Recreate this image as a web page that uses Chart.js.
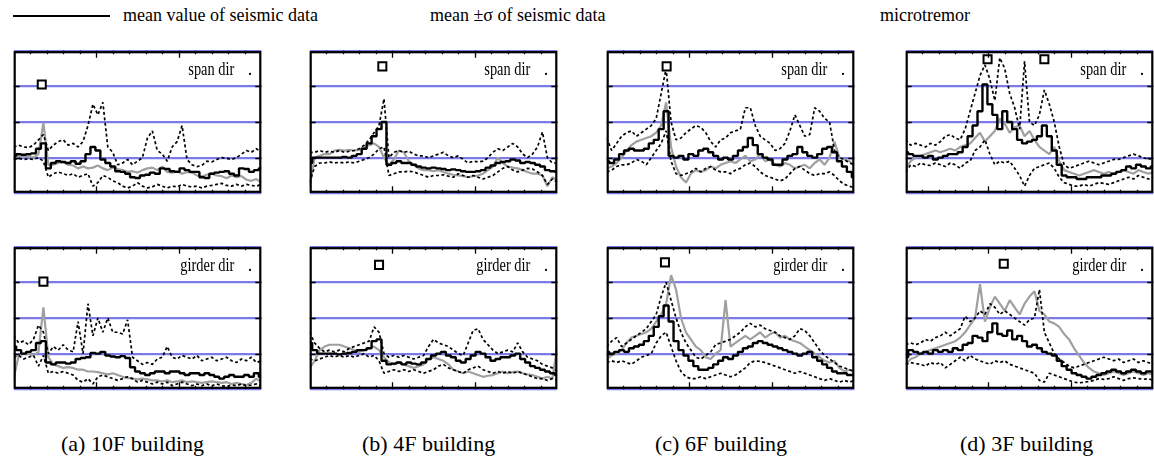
<!DOCTYPE html>
<html>
<head>
<meta charset="utf-8">
<script src="https://cdn.jsdelivr.net/npm/chart.js@4.4.1/dist/chart.umd.min.js"></script>
<style>
  body {
    margin: 0;
    width: 1154px;
    height: 461px;
    overflow: hidden;
    position: relative;
    background: #fff;
    color: #000;
    font-family: "Liberation Serif", "Times New Roman", serif;
  }
  canvas { position: absolute; }
  .legend { position: absolute; top: 6px; font-size: 18px; line-height: 18px; white-space: nowrap; }
  .legend-line { position: absolute; left: 13px; top: 15px; width: 97px; height: 2px; background: #000; }
  .caption { position: absolute; top: 433px; font-size: 22px; line-height: 22px; white-space: nowrap; }
</style>
</head>
<body>
<div class="legend-line"></div>
<div class="legend" style="left:123px">mean value of seismic data</div>
<div class="legend" style="left:430px">mean ±σ of seismic data</div>
<div class="legend" style="left:880px">microtremor</div>

<div class="caption" style="left:61px">(a) 10F building</div>
<div class="caption" style="left:362px">(b) 4F building</div>
<div class="caption" style="left:655px">(c) 6F building</div>
<div class="caption" style="left:960px">(d) 3F building</div>

<script>
// frequency axis (Hz)
const freq = [0, 0.3, 0.6, 0.9, 1.2, 1.5, 1.8, 2.1, 2.4, 2.7, 3, 3.3, 3.6, 3.9, 4.2, 4.5, 4.8, 5.1, 5.4, 5.7,
  6, 6.3, 6.6, 6.9, 7.2, 7.5, 7.8, 8.1, 8.4, 8.7, 9, 9.3, 9.6, 9.9, 10.2, 10.5, 10.8, 11.1, 11.4, 11.7,
  12, 12.3, 12.6, 12.9, 13.2, 13.5, 13.8, 14.1, 14.4, 14.7, 15];
const yTicks = [0, 1, 2, 3, 4];

// (a) 10F building
const mean10FSpan = [1.05,1.1,1.08,1.1,1.12, 1.25,1.4,0.7,0.85,0.9, 0.88,0.85,0.9,0.83,0.9, 1.1,1.3,1.2,0.95,0.85, 0.75,0.62,0.6,0.55,0.45, 0.43,0.5,0.52,0.58,0.55, 0.7,0.68,0.62,0.6,0.7, 0.65,0.6,0.6,0.45,0.43, 0.55,0.58,0.6,0.62,0.55, 0.5,0.7,0.68,0.6,0.65, 0.7];
const upper10FSpan = [1.3,1.35,1.3,1.28,1.35, 1.5,1.65,1.2,1.35,1.45, 1.5,1.35,1.4,1.3,1.45, 1.9,2.5,2.2,2.55,1.3, 1.15,0.8,0.85,0.95,0.8, 0.9,1.0,1.55,1.75,1.2, 1.1,0.9,1.3,1.45,1.9, 0.95,0.8,0.75,0.78,0.9, 0.88,0.95,1.0,0.98,0.95, 1.0,1.1,1.2,1.15,1.25, 1.15];
const lower10FSpan = [0.95,0.98,0.95,0.97,0.95, 1.0,0.9,0.45,0.55,0.6, 0.55,0.5,0.55,0.45,0.5, 0.55,0.2,0.3,0.5,0.45, 0.35,0.3,0.2,0.15,0.2, 0.3,0.2,0.15,0.18,0.25, 0.2,0.15,0.2,0.18,0.25, 0.2,0.18,0.2,0.15,0.2, 0.22,0.25,0.28,0.22,0.2, 0.25,0.2,0.25,0.22,0.2, 0.25];
const micro10FSpan = [1.0,1.05,1.02,1.05,1.0, 1.1,1.98,0.8,0.8,0.85, 0.88,0.8,0.78,0.7,0.75, 0.7,0.72,0.78,0.7,0.65, 0.72,0.68,0.65,0.6,0.62, 0.58,0.65,0.7,0.72,0.65, 0.75,0.6,0.58,0.62,0.55, 0.6,0.58,0.5,0.48,0.52, 0.55,0.5,0.48,0.42,0.5, 0.45,0.48,0.38,0.35,0.4, 0.3];
const peaks10FSpan = [[1.7, 3.05]];

const mean10FGirder = [1.2,1.1,1.0,1.05,1.1, 1.3,1.35,0.75,0.7,0.75, 0.75,0.72,0.75,0.85,0.88, 0.9,1.02,1.0,1.05,0.95, 0.92,0.9,0.93,0.88,0.62, 0.5,0.45,0.4,0.45,0.5, 0.5,0.45,0.5,0.5,0.45, 0.4,0.45,0.45,0.4,0.45, 0.4,0.35,0.3,0.35,0.4, 0.35,0.35,0.4,0.35,0.45, 0.35];
const upper10FGirder = [1.5,1.3,1.35,1.25,1.4, 1.8,1.6,1.0,1.2,1.1, 1.25,1.1,1.05,1.9,1.0, 2.4,1.5,2.0,1.6,2.0, 1.6,1.6,1.55,1.95,0.9, 0.8,0.7,0.75,0.7,0.85, 0.9,1.2,0.9,0.85,0.95, 0.9,0.85,0.95,0.8,0.85, 0.9,0.8,0.85,0.9,0.8, 0.75,0.85,0.8,0.9,0.75, 0.8];
const lower10FGirder = [0.9,0.95,0.85,0.9,0.95, 0.65,0.95,0.45,0.5,0.45, 0.5,0.45,0.4,0.25,0.2, 0.3,0.15,0.35,0.4,0.35, 0.3,0.25,0.3,0.35,0.3, 0.2,0.25,0.2,0.15,0.2, 0.15,0.2,0.1,0.15,0.2, 0.15,0.1,0.15,0.1,0.15, 0.1,0.15,0.1,0.08,0.12, 0.1,0.15,0.1,0.12,0.15, 0.1];
const micro10FGirder = [0.3,0.95,1.0,1.0,0.95, 1.05,2.3,0.9,0.7,0.65, 0.6,0.62,0.6,0.55,0.55, 0.5,0.5,0.48,0.45,0.42, 0.45,0.4,0.35,0.32,0.3, 0.28,0.3,0.28,0.25,0.25, 0.22,0.25,0.2,0.22,0.25, 0.2,0.22,0.2,0.18,0.2, 0.22,0.2,0.18,0.2,0.15, 0.18,0.15,0.12,0.18,0.3, 0.2];
const peaks10FGirder = [[1.8, 3.02]];

// (b) 4F building
const mean4FSpan = [0.85,1.0,1.0,1.0,1.0, 1.0,1.0,1.02,1.0,1.05, 1.1,1.25,1.4,1.6,1.8, 2.0,0.8,0.85,0.9,0.85, 0.85,0.8,0.75,0.72,0.7, 0.72,0.7,0.68,0.65,0.67, 0.65,0.62,0.6,0.6,0.62, 0.65,0.72,0.78,0.85,0.88, 0.9,0.95,0.92,0.85,0.88, 0.85,0.8,0.75,0.65,0.62, 0.6];
const upper4FSpan = [1.15,1.15,1.2,1.15,1.18, 1.15,1.2,1.15,1.18,1.2, 1.25,1.35,1.5,1.7,1.9, 2.65,1.0,1.15,1.2,1.15, 1.18,1.1,1.05,1.05,1.0, 1.05,1.1,1.15,1.05,1.0, 1.05,0.95,0.85,0.9,0.88, 0.9,1.0,1.15,1.25,1.2, 1.3,1.4,1.3,1.1,1.0, 1.1,1.3,1.72,1.0,0.85, 0.85];
const lower4FSpan = [0.3,0.75,0.85,0.85,0.88, 0.85,0.87,0.85,0.88,0.85, 0.9,0.95,1.0,1.1,1.25, 1.3,0.5,0.55,0.6,0.6, 0.62,0.6,0.55,0.5,0.45, 0.5,0.5,0.52,0.48,0.45, 0.55,0.5,0.45,0.5,0.45, 0.4,0.45,0.5,0.6,0.7, 0.75,0.65,0.6,0.65,0.7, 0.68,0.6,0.5,0.25,0.4, 0.3];
const micro4FSpan = [0.2,1.0,1.05,1.1,1.1, 1.2,1.22,1.2,1.22,1.2, 1.22,1.3,1.35,1.4,1.3, 1.0,0.8,0.95,1.2,1.15, 0.9,0.8,0.7,0.65,0.65, 0.62,0.65,0.6,0.55,0.52, 0.5,0.48,0.45,0.48,0.5, 0.55,0.65,0.75,1.0,0.85, 0.75,0.72,0.7,0.65,0.6, 0.55,0.55,0.5,0.2,0.45, 0.35];
const peaks4FSpan = [[4.4, 3.56]];

const mean4FGirder = [1.3,1.1,1.0,1.0,1.0, 1.0,0.98,1.0,1.02,1.05, 1.1,1.1,1.15,1.35,1.4, 0.8,0.7,0.72,0.75,0.7, 0.75,0.72,0.7,0.75,0.85, 0.95,1.0,1.05,0.95,0.9, 0.8,0.75,0.85,0.95,1.05, 1.0,0.9,0.8,0.85,0.9, 0.9,0.95,1.0,0.85,0.75, 0.65,0.6,0.55,0.5,0.45, 0.4];
const upper4FGirder = [1.6,1.3,1.15,1.05,1.1, 1.05,1.1,1.05,1.15,1.2, 1.25,1.3,1.35,1.75,1.6, 1.0,0.9,0.95,0.9,0.95, 0.9,0.85,0.9,0.95,1.2, 1.4,1.3,1.25,1.2,1.1, 1.0,0.95,1.3,1.65,1.7, 1.4,1.25,1.1,1.0,1.05, 1.1,1.05,1.3,1.05,0.9, 0.85,0.8,0.7,0.65,0.6, 0.5];
const lower4FGirder = [0.85,0.8,0.85,0.9,0.95, 0.9,0.95,0.9,0.95,0.9, 0.95,1.0,0.9,0.95,0.8, 0.45,0.5,0.55,0.5,0.55, 0.5,0.55,0.5,0.45,0.5, 0.55,0.65,0.7,0.6,0.55, 0.5,0.45,0.55,0.6,0.65, 0.55,0.5,0.45,0.5,0.45, 0.5,0.45,0.5,0.45,0.4, 0.35,0.3,0.3,0.25,0.3, 0.25];
const micro4FGirder = [0.6,0.8,1.1,1.2,1.25, 1.25,1.25,1.2,1.15,1.1, 1.05,1.1,1.15,1.2,1.1, 0.9,0.75,0.7,0.75,0.7, 0.65,0.6,0.65,0.7,0.85, 0.9,0.85,0.8,0.7,0.55, 0.5,0.45,0.5,0.45,0.4, 0.35,0.38,0.4,0.45,0.5, 0.45,0.48,0.5,0.45,0.42, 0.4,0.35,0.3,0.35,0.3, 1.2];
const peaks4FGirder = [[4.2, 3.49]];

// (c) 6F building
const mean6FSpan = [0.9,0.85,0.95,1.1,1.2, 1.25,1.2,1.2,1.25,1.4, 1.5,1.8,2.3,1.05,1.0, 1.05,0.95,1.1,1.05,1.2, 1.25,1.15,1.05,0.95,1.0, 0.95,1.05,1.2,1.3,1.55, 1.35,1.1,1.0,0.95,0.8, 0.8,0.95,1.05,1.1,1.3, 1.15,1.05,1.0,1.1,1.25, 1.3,1.15,0.9,0.75,0.6, 0.45];
const upper6FSpan = [1.55,1.2,1.4,1.6,1.7, 1.75,1.6,1.7,1.8,1.9, 2.1,2.8,3.5,2.0,1.5, 1.55,1.7,1.8,1.9,1.85, 1.7,1.45,1.3,1.5,1.55, 1.7,1.75,1.8,2.4,2.4, 1.9,1.6,1.5,1.4,1.2, 1.25,1.4,1.75,2.2,1.9, 1.6,1.65,2.4,2.3,2.1, 2.0,1.2,1.0,0.95,0.85, 0.8];
const lower6FSpan = [0.6,0.65,0.75,0.8,0.8, 0.85,0.95,0.9,0.8,1.0, 1.2,1.4,1.75,0.9,0.55, 0.5,0.55,0.6,0.7,0.6, 0.7,0.75,0.65,0.6,0.6, 0.55,0.65,0.7,0.8,0.85, 0.75,0.6,0.5,0.45,0.4, 0.35,0.4,0.55,0.7,0.75, 0.65,0.55,0.5,0.55,0.55, 0.6,0.5,0.35,0.25,0.2, 0.15];
const micro6FSpan = [0.7,0.75,0.85,1.0,1.2, 1.35,1.45,1.5,1.55,1.6, 1.7,1.9,2.55,1.3,0.75, 0.45,0.3,0.55,0.65,0.6, 0.65,0.75,0.7,0.8,0.85, 0.9,0.85,0.95,1.05,0.9, 0.95,1.1,0.9,0.95,0.8, 0.75,0.85,0.8,0.7,0.75, 0.8,0.7,0.85,0.95,0.8, 1.0,1.45,1.0,0.95,0.9, 0.8];
const peaks6FSpan = [[3.63, 3.56]];

const mean6FGirder = [1.05,1.0,1.05,1.1,1.05, 1.15,1.2,1.25,1.35,1.5, 1.75,2.05,2.35,1.9,1.35, 1.1,0.95,0.8,0.65,0.55, 0.55,0.6,0.7,0.8,0.9, 0.85,0.95,1.05,1.15,1.2, 1.3,1.35,1.3,1.25,1.2, 1.15,1.1,1.05,1.0,0.95, 1.0,1.05,0.9,0.8,0.7, 0.6,0.5,0.45,0.45,0.4, 0.4];
const upper6FGirder = [1.2,1.35,1.45,1.2,1.3, 1.4,1.5,1.6,1.7,1.9, 2.1,2.6,3.0,2.5,2.0, 1.6,1.3,1.1,0.9,0.85, 0.95,1.05,1.25,1.3,1.35, 1.4,1.5,1.6,1.75,1.85, 1.75,1.8,1.7,1.65,1.6, 1.5,1.45,1.4,1.5,1.7, 1.65,1.5,1.3,1.1,0.95, 0.85,0.75,0.65,0.6,0.55, 0.5];
const lower6FGirder = [0.75,0.8,0.75,0.8,0.75, 0.7,0.8,0.9,0.95,1.0, 1.3,1.5,1.6,1.2,0.8, 0.5,0.35,0.3,0.3,0.35, 0.3,0.35,0.4,0.45,0.4, 0.35,0.4,0.5,0.6,0.75, 0.8,0.78,0.75,0.7,0.65, 0.6,0.55,0.5,0.45,0.5, 0.45,0.4,0.35,0.3,0.25, 0.3,0.25,0.2,0.25,0.2, 0.25];
const micro6FGirder = [0.85,0.95,1.0,1.1,1.3, 1.45,1.5,1.55,1.6,1.7, 1.9,2.1,2.4,3.2,2.8, 2.0,1.6,1.4,1.2,1.1, 0.9,0.85,1.0,1.1,2.5, 1.2,1.3,1.4,1.5,1.4, 1.5,1.6,1.45,1.55,1.6, 1.45,1.5,1.4,1.35,1.3, 1.2,1.1,1.0,0.9,0.8, 0.75,0.8,0.6,0.5,0.55, 0.5];
const peaks6FGirder = [[3.53, 3.56]];

// (d) 3F building
const mean3FSpan = [1.15,1.1,1.05,1.05,1.0, 1.05,0.95,1.0,1.05,1.1, 1.1,1.15,1.3,1.6,1.9, 2.3,3.05,2.5,2.2,1.8, 2.3,2.0,1.8,1.5,1.4, 1.45,1.5,1.6,1.9,1.6, 1.2,0.8,0.5,0.45,0.45, 0.4,0.4,0.45,0.45,0.45, 0.5,0.5,0.55,0.6,0.65, 0.75,0.7,0.8,0.75,0.7, 0.75];
const upper3FSpan = [1.5,1.35,1.4,1.35,1.3, 1.4,1.35,1.45,1.6,1.65, 1.55,1.5,1.8,2.3,2.8, 3.3,3.6,3.2,2.6,3.8, 3.5,2.8,2.4,1.8,3.7, 2.0,1.9,2.2,2.9,2.5, 2.0,1.3,0.8,0.7,0.75, 0.8,0.85,0.9,0.85,0.8, 0.85,0.9,0.95,0.95,1.0, 1.05,1.1,1.05,1.0,0.95, 1.0];
const lower3FSpan = [0.6,0.8,0.75,0.85,0.8, 0.78,0.85,0.8,0.75,0.85, 0.8,0.7,0.85,0.9,1.2, 1.3,1.5,1.1,0.8,0.9, 0.85,0.9,0.7,0.5,0.2, 0.5,0.7,0.75,0.8,0.85, 0.7,0.45,0.3,0.25,0.2, 0.2,0.25,0.2,0.25,0.3, 0.28,0.25,0.3,0.35,0.4, 0.45,0.4,0.5,0.45,0.4, 0.45];
const micro3FSpan = [0.7,0.9,1.0,1.05,1.1, 1.15,1.2,1.15,1.2,1.25, 1.2,1.3,1.35,1.4,1.55, 1.7,1.45,1.6,1.75,2.1, 1.95,1.7,1.85,1.9,1.6, 1.75,1.5,1.3,1.2,1.1, 1.3,0.9,0.65,0.6,0.55, 0.5,0.55,0.6,0.65,0.6, 0.55,0.6,0.55,0.6,0.65, 0.6,0.55,0.65,0.6,0.55, 0.6];
const peaks3FSpan = [[4.96, 3.76], [8.4, 3.76]];

const mean3FGirder = [0.9,1.1,1.05,1.0,1.05, 1.0,1.1,1.05,1.1,1.05, 1.15,1.1,1.25,1.3,1.5, 1.45,1.35,1.6,1.85,1.55, 1.5,1.65,1.4,1.5,1.35, 1.2,1.25,1.15,1.05,1.0, 0.95,0.8,0.65,0.55,0.45, 0.4,0.35,0.3,0.35,0.4, 0.45,0.5,0.55,0.5,0.45, 0.5,0.55,0.5,0.45,0.5, 0.5];
const upper3FGirder = [1.25,1.3,1.25,1.3,1.4, 1.35,1.45,1.5,1.6,1.5, 1.6,1.7,2.05,1.9,2.0, 2.2,2.1,2.4,2.3,2.1, 2.2,2.1,2.0,1.9,1.8, 1.95,2.0,2.8,1.6,1.3, 1.0,0.85,0.75,0.65,0.6, 0.65,0.7,0.75,0.8,0.85, 0.9,0.85,0.8,0.85,0.75, 0.8,0.85,0.75,0.8,0.75, 0.7];
const lower3FGirder = [0.7,0.75,0.72,0.7,0.65, 0.75,0.7,0.75,0.6,0.7, 0.8,0.9,0.8,0.95,0.85, 0.8,0.75,0.7,0.8,0.75, 0.8,0.7,0.65,0.6,0.55, 0.5,0.45,0.25,0.2,0.45, 0.4,0.35,0.3,0.25,0.2, 0.18,0.2,0.22,0.25,0.3, 0.28,0.3,0.35,0.3,0.25, 0.3,0.32,0.3,0.28,0.3, 0.25];
const micro3FGirder = [0.7,0.85,0.9,1.0,1.05, 1.1,1.15,1.2,1.25,1.3, 1.35,1.45,1.6,1.8,2.0, 2.95,1.9,2.3,2.6,2.4, 2.2,2.5,2.3,2.1,2.4, 2.6,2.75,2.2,2.1,1.9, 1.85,1.75,1.55,1.4,1.15, 0.95,0.75,0.6,0.5,0.45, 0.4,0.45,0.5,0.45,0.4, 0.45,0.5,0.45,0.4,0.45, 0.4];
const peaks3FGirder = [[5.94, 3.52]];

// plot-box placement on the page (left/top of the frame, 255 x 150 each)
const PAD = 4, BOX_W = 255, BOX_H = 150;
const colLeft = [10, 306, 603, 902];
const rowTop = [47, 243];
const gridBlue = "#7a7ae8";

const panels = [
  { col: 0, row: 0, dir: "span dir", mean: mean10FSpan, upper: upper10FSpan, lower: lower10FSpan, micro: micro10FSpan, peaks: peaks10FSpan },
  { col: 1, row: 0, dir: "span dir", mean: mean4FSpan, upper: upper4FSpan, lower: lower4FSpan, micro: micro4FSpan, peaks: peaks4FSpan },
  { col: 2, row: 0, dir: "span dir", mean: mean6FSpan, upper: upper6FSpan, lower: lower6FSpan, micro: micro6FSpan, peaks: peaks6FSpan },
  { col: 3, row: 0, dir: "span dir", mean: mean3FSpan, upper: upper3FSpan, lower: lower3FSpan, micro: micro3FSpan, peaks: peaks3FSpan },
  { col: 0, row: 1, dir: "girder dir", mean: mean10FGirder, upper: upper10FGirder, lower: lower10FGirder, micro: micro10FGirder, peaks: peaks10FGirder },
  { col: 1, row: 1, dir: "girder dir", mean: mean4FGirder, upper: upper4FGirder, lower: lower4FGirder, micro: micro4FGirder, peaks: peaks4FGirder },
  { col: 2, row: 1, dir: "girder dir", mean: mean6FGirder, upper: upper6FGirder, lower: lower6FGirder, micro: micro6FGirder, peaks: peaks6FGirder },
  { col: 3, row: 1, dir: "girder dir", mean: mean3FGirder, upper: upper3FGirder, lower: lower3FGirder, micro: micro3FGirder, peaks: peaks3FGirder },
];

function toPoints(values) {
  return freq.map((f, i) => ({ x: f, y: values[i] }));
}

// black frame, inward tick marks and the direction label
const panelFrame = {
  id: "panelFrame",
  afterDraw(chart, args, opts) {
    const { ctx, chartArea: a, scales: { x, y } } = chart;
    ctx.save();
    ctx.strokeStyle = "#000";
    ctx.lineWidth = 1.3;
    ctx.beginPath();
    for (let f = 1; f < 15; f++) {
      const px = Math.round(x.getPixelForValue(f)) + 0.5;
      const len = f % 5 === 0 ? 7 : 3.5;
      ctx.moveTo(px, a.top);
      ctx.lineTo(px, a.top + len);
      ctx.moveTo(px, a.bottom);
      ctx.lineTo(px, a.bottom - len);
    }
    yTicks.slice(1, -1).forEach((v) => {
      const py = Math.round(y.getPixelForValue(v)) + 0.5;
      ctx.moveTo(a.left, py);
      ctx.lineTo(a.left + 6, py);
      ctx.moveTo(a.right, py);
      ctx.lineTo(a.right - 6, py);
    });
    ctx.stroke();

    ctx.lineWidth = 2.2;
    ctx.strokeRect(a.left + 1, a.top + 1.5, a.right - a.left - 2, a.bottom - a.top - 3);

    ctx.fillStyle = "#000";
    ctx.font = '18px "Liberation Serif"';
    ctx.textBaseline = "alphabetic";
    ctx.textAlign = "right";
    ctx.save();
    ctx.translate(a.right - 27, a.top + 24);
    ctx.scale(0.8, 1);
    ctx.fillText(opts.label, 0, 0);
    ctx.restore();
    ctx.fillText(".", a.right - 9, a.top + 24);
    ctx.restore();
  },
};

panels.forEach((p) => {
  const canvas = document.createElement("canvas");
  canvas.width = BOX_W + PAD * 2;
  canvas.height = BOX_H + PAD * 2;
  canvas.style.left = colLeft[p.col] - PAD + "px";
  canvas.style.top = rowTop[p.row] - PAD + "px";
  document.body.appendChild(canvas);

  new Chart(canvas.getContext("2d"), {
    type: "line",
    data: {
      datasets: [
        {
          label: "peak",
          data: p.peaks.map(([f, v]) => ({ x: f, y: v })),
          showLine: false,
          pointStyle: "rect",
          pointRadius: 5.7,
          pointBorderWidth: 2,
          pointBorderColor: "#000",
          pointBackgroundColor: "#fff",
          order: 0,
        },
        {
          label: "mean value of seismic data",
          data: toPoints(p.mean),
          borderColor: "#000",
          borderWidth: 2.4,
          stepped: "middle",
          order: 1,
        },
        {
          label: "mean +σ",
          data: toPoints(p.upper),
          borderColor: "#000",
          borderWidth: 1.7,
          borderDash: [3, 2.5],
          order: 2,
        },
        {
          label: "mean -σ",
          data: toPoints(p.lower),
          borderColor: "#000",
          borderWidth: 1.7,
          borderDash: [3, 2.5],
          order: 2,
        },
        {
          label: "microtremor",
          data: toPoints(p.micro),
          borderColor: "#a0a0a0",
          borderWidth: 2.2,
          order: 3,
        },
      ],
    },
    options: {
      responsive: false,
      animation: false,
      events: [],
      layout: { padding: PAD },
      elements: {
        line: { tension: 0, fill: false, borderJoinStyle: "bevel" },
        point: { radius: 0 },
      },
      scales: {
        x: { type: "linear", min: 0, max: 15, display: false },
        y: {
          min: 0,
          max: 4,
          ticks: { stepSize: 1, display: false },
          grid: { color: gridBlue, lineWidth: 2.2, drawTicks: false },
          border: { display: false },
        },
      },
      plugins: {
        legend: { display: false },
        tooltip: { enabled: false },
        panelFrame: { label: p.dir },
      },
    },
    plugins: [panelFrame],
  });
});
</script>
</body>
</html>
